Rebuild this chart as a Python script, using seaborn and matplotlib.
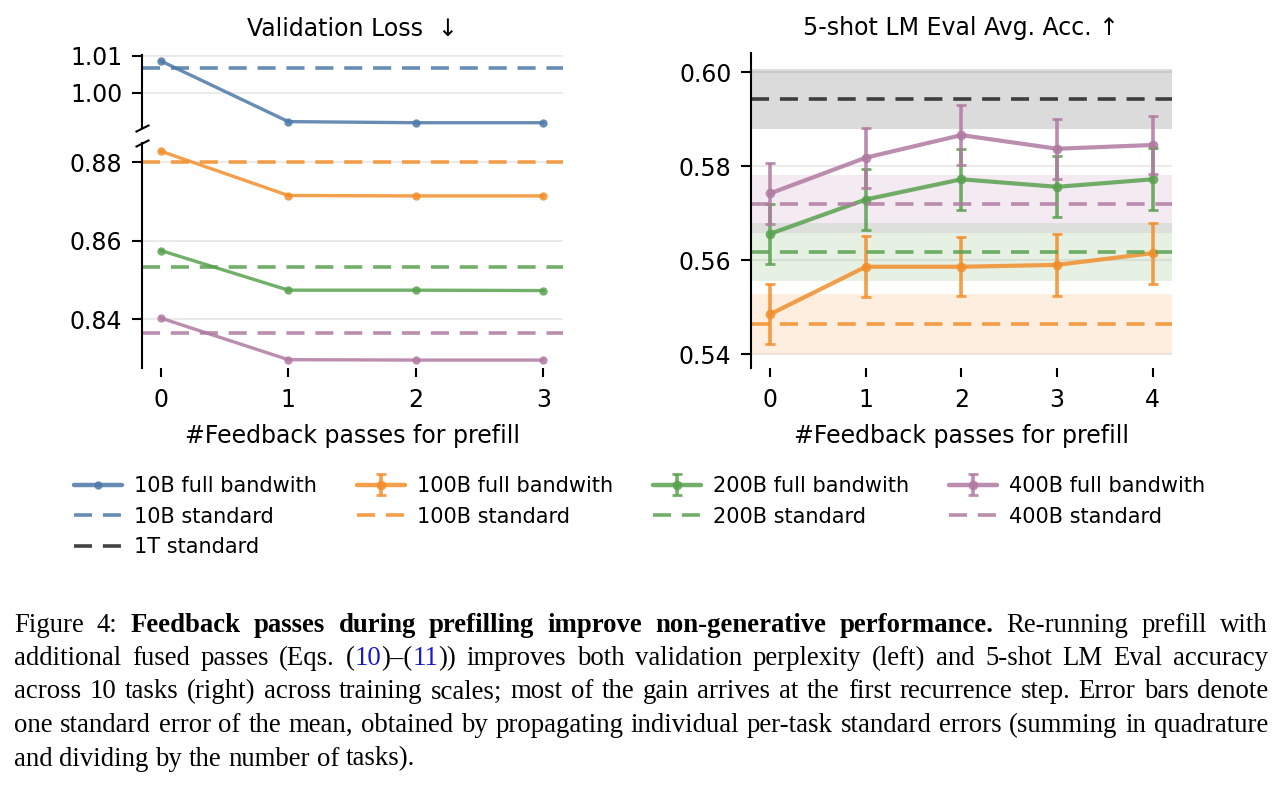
import matplotlib
matplotlib.use("Agg")
import pandas as pd
import matplotlib.pyplot as plt
import seaborn as sns
from matplotlib.lines import Line2D

# ====== data ======
models = ["10B", "100B", "200B", "400B"]
colors = ["#4e79a7", "#f28e2b", "#59a14f", "#b07aa1"]

loss_passes = [0, 1, 2, 3]
loss_10b = [1.0086, 0.9922, 0.9919, 0.9919]
loss_100b = [0.8828, 0.8715, 0.8714, 0.8714]
loss_200b = [0.8575, 0.8474, 0.8474, 0.8473]
loss_400b = [0.8403, 0.8297, 0.8296, 0.8296]
loss_standard = [1.0067, 0.8800, 0.8532, 0.8365]   # 10B, 100B, 200B, 400B

acc_passes = [0, 1, 2, 3, 4]
acc_100b = [0.5485, 0.5586, 0.5586, 0.5590, 0.5615]
acc_200b = [0.5656, 0.5729, 0.5772, 0.5756, 0.5772]
acc_400b = [0.5742, 0.5818, 0.5866, 0.5837, 0.5845]
err_100b = [0.0064, 0.0065, 0.0063, 0.0066, 0.0065]
err_200b = [0.0064, 0.0065, 0.0065, 0.0065, 0.0066]
err_400b = [0.0064, 0.0064, 0.0063, 0.0064, 0.0062]
acc_standard = [0.5464, 0.5618, 0.5719]            # 100B, 200B, 400B
acc_standard_err = [0.0063, 0.0062, 0.0062]
acc_1t = 0.5943
acc_1t_err = 0.0063

caption_lines = [
    [("Figure 4: ", "n"), ("Feedback passes during prefilling improve non-generative performance.", "b"),
     (" Re-running prefill with", "n")],
    [("additional fused passes (Eqs. (", "n"), ("10", "l"), (")–(", "n"), ("11", "l"),
     (")) improves both validation perplexity (left) and 5-shot LM Eval accuracy", "n")],
    [("across 10 tasks (right) across training scales; most of the gain arrives at the first recurrence step. Error bars denote", "n")],
    [("one standard error of the mean, obtained by propagating individual per-task standard errors (summing in quadrature", "n")],
    [("and dividing by the number of tasks).", "n")],
]

# ====== style ======
sns.set_style("ticks")
plt.rcParams.update({
    "font.family": ["DejaVu Sans"],
    "text.color": "black",
    "axes.labelcolor": "black",
    "xtick.color": "black",
    "ytick.color": "black",
    "axes.edgecolor": "black",
    "axes.linewidth": 1.5,
    "xtick.major.width": 1.5,
    "ytick.major.width": 1.5,
    "xtick.major.size": 6.5,
    "ytick.major.size": 7,
    "xtick.major.pad": 8,
    "ytick.major.pad": 7,
})
FS = 17
DASH = (0, (5, 3))
ALPHA = 0.85

fig = plt.figure(figsize=(12.83, 7.86), dpi=100)
ax_top = fig.add_axes([0.1104, 0.8368, 0.3281, 0.0932])
ax_bot = fig.add_axes([0.1104, 0.5314, 0.3281, 0.2863])
ax_acc = fig.add_axes([0.5853, 0.5314, 0.3281, 0.4008])

# ====== left: validation loss (broken axis) ======
loss_df = pd.DataFrame({
    "pass": loss_passes * 4,
    "loss": loss_10b + loss_100b + loss_200b + loss_400b,
    "model": sum([[m] * len(loss_passes) for m in models], []),
})
for ax in (ax_top, ax_bot):
    ax.yaxis.grid(True, color="#ebebeb", lw=1.5)
    ax.set_axisbelow(True)
    sns.lineplot(data=loss_df, x="pass", y="loss", hue="model", palette=colors,
                 marker="o", markersize=6, markeredgewidth=0, lw=2.4, alpha=ALPHA,
                 legend=False, ax=ax)
    for val, c in zip(loss_standard, colors):
        ax.axhline(val, color=c, ls=DASH, lw=2.6, alpha=ALPHA)
    ax.set_xlim(-0.15, 3.15)
    ax.set_xlabel("")
    ax.set_ylabel("")
    ax.tick_params(labelsize=FS)
    for s in ("top", "right", "bottom"):
        ax.spines[s].set_visible(False)

ax_top.set_ylim(0.9904, 1.0102)
ax_top.set_yticks([1.00, 1.01])
ax_top.tick_params(axis="x", bottom=False, labelbottom=False)
ax_bot.set_ylim(0.8275, 0.8848)
ax_bot.set_yticks([0.84, 0.86, 0.88])
ax_bot.set_xticks(loss_passes)
ax_bot.set_xlabel("#Feedback passes for prefill", fontsize=FS, labelpad=8)
ax_top.set_title("Validation Loss  ↓", fontsize=FS, pad=14)

brk = dict(marker=[(-1, -0.5), (1, 0.5)], markersize=10, linestyle="none",
           color="k", mec="k", mew=1.5, clip_on=False)
ax_top.plot([0], [0], transform=ax_top.transAxes, **brk)
ax_bot.plot([0], [1], transform=ax_bot.transAxes, **brk)

# ====== right: 5-shot accuracy ======
ax = ax_acc
ax.yaxis.grid(True, color="#ebebeb", lw=1.5)
ax.set_axisbelow(True)
ax.axhspan(acc_1t - acc_1t_err, acc_1t + acc_1t_err, color="black", alpha=0.14, lw=0)
for val, e, c in zip(acc_standard, acc_standard_err, colors[1:]):
    ax.axhspan(val - e, val + e, color=c, alpha=0.15, lw=0)

acc_df = pd.DataFrame({
    "pass": acc_passes * 3,
    "acc": acc_100b + acc_200b + acc_400b,
    "model": sum([[m] * len(acc_passes) for m in models[1:]], []),
})
sns.lineplot(data=acc_df, x="pass", y="acc", hue="model", palette=colors[1:],
             marker="o", markersize=7, markeredgewidth=0, lw=3, alpha=ALPHA,
             legend=False, ax=ax)
err_handles = []
for ys, es, c in zip([acc_100b, acc_200b, acc_400b], [err_100b, err_200b, err_400b], colors[1:]):
    eb = ax.errorbar(acc_passes, ys, yerr=es, fmt="none", ecolor=c, elinewidth=2.6,
                     capsize=3.5, capthick=2, alpha=ALPHA)
    err_handles.append(eb)
for val, c in zip(acc_standard, colors[1:]):
    ax.axhline(val, color=c, ls=DASH, lw=2.6, alpha=ALPHA)
ax.axhline(acc_1t, color="#222222", ls=DASH, lw=2.6, alpha=ALPHA)

ax.set_xlim(-0.2, 4.2)
ax.set_ylim(0.537, 0.604)
ax.set_xticks(acc_passes)
ax.set_yticks([0.54, 0.56, 0.58, 0.60])
ax.tick_params(labelsize=FS)
ax.set_xlabel("#Feedback passes for prefill", fontsize=FS, labelpad=8)
ax.set_ylabel("")
ax.set_title("5-shot LM Eval Avg. Acc. ↑", fontsize=FS, pad=13)
for s in ("top", "right", "bottom"):
    ax.spines[s].set_visible(False)

# ====== legend ======
def full_handle(c, i):
    ln = Line2D([], [], color=c, marker="o", markersize=6 if i == 0 else 7,
                markeredgewidth=0, lw=3.2, alpha=ALPHA)
    return ln if i == 0 else (ln, err_handles[i - 1])

handles, labels = [], []
for i, (m, c) in enumerate(zip(models, colors)):
    handles.append(full_handle(c, i))
    labels.append(f"{m} full bandwith")
    handles.append(Line2D([], [], color=c, ls=DASH, lw=2.6, alpha=ALPHA))
    labels.append(f"{m} standard")
    if i == 0:
        handles.append(Line2D([], [], color="#222222", ls=DASH, lw=2.6, alpha=ALPHA))
        labels.append("1T standard")
fig.legend(handles, labels, loc="upper left", bbox_to_anchor=(0.043, 0.418), ncol=4,
           frameon=False, fontsize=15, handlelength=2.3, handletextpad=0.6,
           columnspacing=1.9, labelspacing=0.5)

# ====== caption (justified, serif) ======
fig.canvas.draw()
renderer = fig.canvas.get_renderer()
x_left, x_right = 14, 1268
baselines = [632, 665, 698.5, 732, 765.5]
W, H = fig.bbox.width, fig.bbox.height
cap_fs = 18

def text_kw(style):
    kw = dict(fontsize=cap_fs, family="Liberation Serif", color="black")
    if style == "b":
        kw["weight"] = "bold"
    if style == "l":
        kw["color"] = "#1a1acc"
    return kw

def measure(s, style):
    t = fig.text(0, 0, s, **text_kw(style))
    w = t.get_window_extent(renderer).width
    t.remove()
    return w

def split_words(segs):
    words, cur = [], []
    for txt, st in segs:
        parts = txt.split(" ")
        for k, p in enumerate(parts):
            if k > 0 and cur:
                words.append(cur)
                cur = []
            if p:
                cur.append((p, st))
    if cur:
        words.append(cur)
    return words

# pick the size so the widest full line fits with normal word spacing
space_w = measure("a a", "n") - measure("aa", "n")
natural = []
for segs in caption_lines[:-1]:
    words = split_words(segs)
    natural.append(sum(measure(p, st) for w in words for p, st in w) + space_w * (len(words) - 1))
cap_fs = 18 * (x_right - x_left) / max(natural) * 0.99

space_w = measure("a a", "n") - measure("aa", "n")
for li, segs in enumerate(caption_lines):
    words = split_words(segs)
    widths = [[measure(p, st) for p, st in w] for w in words]
    total = sum(sum(ws) for ws in widths)
    last = li == len(caption_lines) - 1
    gap = space_w if last else (x_right - x_left - total) / (len(words) - 1)
    x = x_left
    y = 1 - baselines[li] / H
    for w, ws in zip(words, widths):
        for (p, st), pw in zip(w, ws):
            fig.text(x / W, y, p, va="baseline", ha="left", **text_kw(st))
            x += pw
        x += gap

fig.savefig("out.png", dpi=100)
